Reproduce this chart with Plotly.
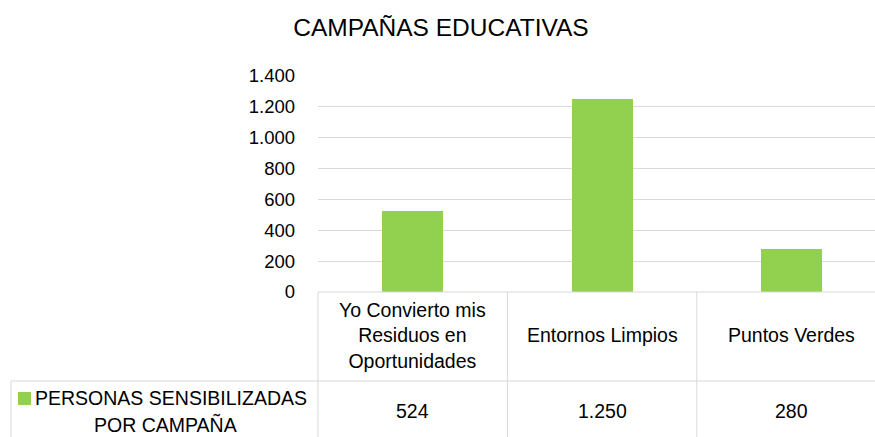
import plotly.graph_objects as go

# ---- data ----
title_text = "CAMPAÑAS EDUCATIVAS"
categories = ["Yo Convierto mis<br>Residuos en<br>Oportunidades", "Entornos Limpios", "Puntos Verdes"]
values = [524, 1250, 280]
value_labels = ["524", "1.250", "280"]
series_line1 = "PERSONAS SENSIBILIZADAS"
series_line2 = "POR CAMPAÑA"
y_ticks = [0, 200, 400, 600, 800, 1000, 1200, 1400]
y_tick_labels = ["0", "200", "400", "600", "800", "1.000", "1.200", "1.400"]

FONT = "Liberation Sans, Arial, sans-serif"
GREEN = "#92D050"
GRID = "#D9D9D9"

W, H = 875, 437
ML, MR, MT, MB = 318, 0, 76, 145
plot_w = W - ML - MR
plot_h = H - MT - MB
col_px = 189.4
x0 = -0.5
x1 = x0 + plot_w / col_px

def px_x(v):  # data x -> paper x
    return (v - x0) / (x1 - x0)

def py(pix):  # pixel y -> paper y
    return (H - MB - pix) / plot_h

def pxx(pix):  # pixel x -> paper x
    return (pix - ML) / plot_w

xs = list(range(len(categories)))

fig = go.Figure()
fig.add_trace(go.Bar(x=xs, y=values, width=0.322, marker=dict(color=GREEN, line=dict(width=0)),
                     showlegend=False, hoverinfo="skip"))

shapes = []
line = dict(color=GRID, width=1)
# table top line (x axis)
shapes.append(dict(type="line", xref="paper", yref="paper", x0=0, x1=px_x(len(categories) - 0.5),
                   y0=0, y1=0, line=line))
# row separator
shapes.append(dict(type="line", xref="paper", yref="paper", x0=pxx(11), x1=px_x(len(categories) - 0.5),
                   y0=py(381), y1=py(381), line=line))
# left border of series label cell
shapes.append(dict(type="line", xref="paper", yref="paper", x0=pxx(11), x1=pxx(11),
                   y0=py(381), y1=py(440), line=line))
# column separators
for i in range(len(categories) + 1):
    xv = px_x(i - 0.5)
    shapes.append(dict(type="line", xref="paper", yref="paper", x0=xv, x1=xv,
                       y0=0, y1=py(440), line=line))
# legend key
shapes.append(dict(type="rect", xref="paper", yref="paper", x0=pxx(18), x1=pxx(31),
                   y0=py(392), y1=py(405), fillcolor=GREEN, line=dict(width=0)))

annotations = []
tf = dict(family=FONT, size=19.5, color="#000000")
for i, c in enumerate(categories):
    annotations.append(dict(text=c, x=px_x(i), y=py(335), xref="paper", yref="paper",
                            xanchor="center", yanchor="middle", showarrow=False, font=tf, align="center"))
    annotations.append(dict(text=value_labels[i], x=px_x(i), y=py(411), xref="paper", yref="paper",
                            xanchor="center", yanchor="middle", showarrow=False, font=tf))
annotations.append(dict(text=series_line1, x=pxx(33), y=py(398), xref="paper", yref="paper",
                        xanchor="left", yanchor="middle", showarrow=False, font=tf))
annotations.append(dict(text=series_line2, x=pxx(165), y=py(424), xref="paper", yref="paper",
                        xanchor="center", yanchor="middle", showarrow=False, font=tf))

fig.update_layout(
    width=W, height=H, autosize=False,
    margin=dict(l=ML, r=MR, t=MT, b=MB, pad=0),
    paper_bgcolor="white", plot_bgcolor="white",
    title=dict(text=title_text, x=441 / W, xref="container", xanchor="center",
               y=1 - 27 / H, yref="container", yanchor="middle",
               font=dict(family=FONT, size=24.5, color="#000000")),
    xaxis=dict(range=[x0, x1], showticklabels=False, showgrid=False, zeroline=False,
               showline=False, ticks=""),
    yaxis=dict(range=[0, 1400], tickvals=y_ticks, ticktext=y_tick_labels,
               showgrid=True, gridcolor=GRID, gridwidth=1, zeroline=False, showline=False,
               ticks="", ticklabelstandoff=22,
               tickfont=dict(family=FONT, size=18.5, color="#000000")),
    shapes=shapes, annotations=annotations,
    bargap=0,
)

fig.write_html("out.html", config={"displayModeBar": False},
               post_script="document.body.style.margin='0';document.body.style.overflow='hidden';")
